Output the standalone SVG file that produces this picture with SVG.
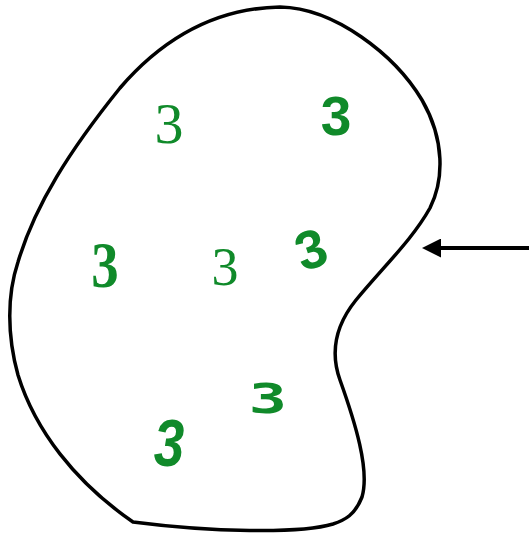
<svg xmlns="http://www.w3.org/2000/svg" width="529" height="534" viewBox="0 0 529 534">
<style>
.blob{fill:none;stroke:#000;stroke-width:3.5;stroke-linejoin:round}
.d{fill:#108a2a}
.serif{font-family:"Liberation Serif","DejaVu Serif",serif}
.sans{font-family:"Liberation Sans","DejaVu Sans",sans-serif}
.mono{font-family:"DejaVu Sans Mono","Liberation Mono",monospace}
.arrow{stroke:#000;stroke-width:4;fill:none}
</style>
<defs>
<marker id="ah" viewBox="0 0 19 19" refX="9" refY="9.5" markerWidth="19" markerHeight="19" orient="auto" markerUnits="userSpaceOnUse">
<path d="M0 0 L19 9.5 L0 19 Z" fill="#000"/>
</marker>
</defs>
<rect width="529" height="534" fill="#fff"/>
<g id="region">
<path class="blob" d="M133 522 C75 482 35 430 18 375 C7 335 7 295 18 262 C35 205 70 150 120 88 C170 30 225 8 280 7 C335 8 395 55 422 100 C445 140 444 180 430 208 C412 240 385 265 356 300 C335 326 330 352 340 380 C355 422 370 470 362 497 C355 515 345 520 333 524 C300 534 210 532 133 522 Z"/>
</g>
<g id="three1"><text class="d serif" x="169" y="143" font-size="58" text-anchor="middle">3</text></g>
<g id="three2"><text class="d sans" x="336" y="135" font-size="55" font-weight="bold" text-anchor="middle">3</text></g>
<g id="three3"><text class="d serif" font-size="66" font-weight="bold" text-anchor="middle" transform="translate(105 287) scale(0.83 1)">3</text></g>
<g id="three4"><text class="d serif" x="225" y="285" font-size="54" text-anchor="middle">3</text></g>
<g id="three5"><text class="d sans" font-size="54" font-weight="bold" text-anchor="middle" transform="translate(311 249) rotate(-18) translate(0 19)">3</text></g>
<g id="three6"><text class="d mono" font-size="41" font-weight="bold" text-anchor="middle" transform="translate(268 413) scale(1.55 1)">3</text></g>
<g id="three7"><text class="d sans" font-size="67" font-weight="bold" font-style="italic" text-anchor="middle" transform="translate(169 466) scale(0.82 1)">3</text></g>
<g id="connectors">
<line class="arrow" x1="529" y1="248" x2="432" y2="248" marker-end="url(#ah)"/>
</g>
</svg>
